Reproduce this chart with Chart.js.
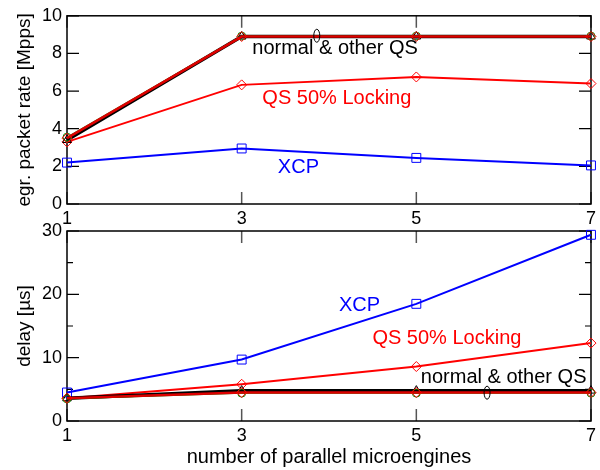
<!DOCTYPE html>
<html><head><meta charset="utf-8">
<script src="https://cdn.jsdelivr.net/npm/chart.js@4.4.1/dist/chart.umd.min.js"></script>
<style>
html,body{margin:0;padding:0;background:#fff;}
#wrap{position:relative;width:600px;height:470px;overflow:hidden;}
#c1{position:absolute;left:0;top:0;}
#c2{position:absolute;left:0;top:200px;}
</style></head><body><div id="wrap">
<canvas id="c1" width="600" height="232"></canvas>
<canvas id="c2" width="600" height="270"></canvas>
</div>
<script>
// ---- data ----
const xValues = [1, 3, 5, 7];
const xTicks = [1, 3, 5, 7];

// top panel: egress packet rate [Mpps]
const rateNormal   = [3.4, 8.9, 8.9, 8.9];
const rateOtherQS  = [3.55, 8.92, 8.92, 8.92];
const rateQS       = [3.5, 8.9, 8.9, 8.9];
const rateLocking  = [3.3, 6.33, 6.75, 6.4];
const rateXCP      = [2.2, 2.95, 2.45, 2.05];
const rateYTicks   = [0, 2, 4, 6, 8, 10];

// bottom panel: delay [µs]
const delayNormal  = [3.6, 4.8, 4.8, 4.8];
const delayOtherQS = [3.5, 4.4, 4.4, 4.4];
const delayQS      = [3.6, 4.5, 4.5, 4.5];
const delayLocking = [3.6, 5.8, 8.6, 12.3];
const delayXCP     = [4.5, 9.7, 18.5, 29.4];
const delayYTicks  = [0, 10, 20, 30];
const delayMinor   = [5, 15, 25];

// annotations (data coordinates)
const topNotes = [
  {text: 'normal & other QS', x: 4.07, y: 8.25, color: '#000'},
  {text: 'QS 50% Locking', x: 4.09, y: 5.6, color: '#ff0000'},
  {text: 'XCP', x: 3.65, y: 1.95, color: '#0000ff'}
];
const bottomNotes = [
  {text: 'XCP', x: 4.35, y: 18.2, color: '#0000ff'},
  {text: 'QS 50% Locking', x: 5.35, y: 13.1, color: '#ff0000'},
  {text: 'normal & other QS', x: 6.0, y: 6.8, color: '#000'}
];
const topEllipse = {x: 3.86, y: 8.94};
const bottomEllipse = {x: 5.81, y: 4.47};

const FONT = 'Liberation Sans, Arimo, Helvetica, Arial, sans-serif';
Chart.defaults.font.family = FONT;
Chart.defaults.color = '#000';

function pts(arr){ return arr.map((v,i)=>({x:xValues[i], y:v})); }

function mkDatasets(normal, other, qs, locking, xcp){
  const base = {fill:false, tension:0, clip:false, pointBackgroundColor:'rgba(0,0,0,0)', pointBorderWidth:1};
  // Chart.js draws the first dataset on top
  return [
    Object.assign({}, base, {data:pts(qs), borderColor:'#dd0000', borderWidth:2.6, pointStyle:'rectRot', pointRadius:5, pointBorderColor:'#ff0000'}),
    Object.assign({}, base, {data:pts(other), borderColor:'#008800', borderWidth:1.2, pointStyle:'circle', pointRadius:4, pointBorderColor:'#008800'}),
    Object.assign({}, base, {data:pts(normal), borderColor:'#000000', borderWidth:3.4, pointStyle:'triangle', pointRadius:5, pointBorderColor:'#000000'}),
    Object.assign({}, base, {data:pts(locking), borderColor:'#ff0000', borderWidth:2, pointStyle:'rectRot', pointRadius:5, pointBorderColor:'#ff0000'}),
    Object.assign({}, base, {data:pts(xcp), borderColor:'#0000ff', borderWidth:2, pointStyle:'rect', pointRadius:6.3, pointBorderColor:'#0000ff'})
  ];
}

function framePlugin(majors, minors, notes, ell){
  return {
    id:'frame',
    beforeDatasetsDraw(chart){
      const {ctx, chartArea:a, scales:{x, y}} = chart;
      ctx.save();
      ctx.strokeStyle = '#555'; ctx.lineWidth = 1.5;
      xTicks.forEach(v=>{
        const px = x.getPixelForValue(v);
        ctx.beginPath();
        ctx.moveTo(px, a.bottom); ctx.lineTo(px, a.bottom-12);
        ctx.moveTo(px, a.top); ctx.lineTo(px, a.top+12);
        ctx.stroke();
      });
      ctx.strokeStyle = '#000'; ctx.lineWidth = 1.2;
      majors.forEach(v=>{
        const py = y.getPixelForValue(v);
        ctx.beginPath();
        ctx.moveTo(a.left, py); ctx.lineTo(a.left+12, py);
        ctx.moveTo(a.right, py); ctx.lineTo(a.right-12, py);
        ctx.stroke();
      });
      minors.forEach(v=>{
        const py = y.getPixelForValue(v);
        ctx.beginPath();
        ctx.moveTo(a.left, py); ctx.lineTo(a.left+6, py);
        ctx.moveTo(a.right, py); ctx.lineTo(a.right-6, py);
        ctx.stroke();
      });
      ctx.lineWidth = 1.5;
      ctx.strokeRect(a.left, a.top, a.right-a.left, a.bottom-a.top);
      ctx.restore();
    },
    afterDatasetsDraw(chart){
      const {ctx, scales:{x, y}} = chart;
      ctx.save();
      ctx.font = '20px ' + FONT;
      ctx.textAlign = 'center'; ctx.textBaseline = 'middle';
      notes.forEach(n=>{
        ctx.fillStyle = n.color;
        ctx.fillText(n.text, x.getPixelForValue(n.x), y.getPixelForValue(n.y));
      });
      ctx.strokeStyle = '#000'; ctx.lineWidth = 1;
      ctx.beginPath();
      ctx.ellipse(x.getPixelForValue(ell.x), y.getPixelForValue(ell.y), 3, 6.5, 0, 0, Math.PI*2);
      ctx.stroke();
      ctx.restore();
    }
  };
}

function mkOptions(ymax, ystep, ytitle, xHeight, padTop, showXTitle){
  return {
    responsive:false, animation:false,
    layout:{padding:{top:padTop, right:5, left:0, bottom:0}},
    plugins:{legend:{display:false}, tooltip:{enabled:false}},
    scales:{
      x:{type:'linear', min:1, max:7,
         grid:{display:false, drawTicks:false}, border:{display:false},
         ticks:{stepSize:2, padding:4, font:{size:18}, color:'#000'},
         title:{display:showXTitle, text:'number of parallel microengines', font:{size:20}, padding:{top:0, bottom:1}, color:'#000'},
         afterFit(s){ s.height = xHeight; }
      },
      y:{type:'linear', min:0, max:ymax,
         grid:{display:false, drawTicks:false}, border:{display:false},
         ticks:{stepSize:ystep, padding:5, font:{size:18}, color:'#000'},
         title:{display:true, text:ytitle, font:{size:19}, padding:{top:13, bottom:0}, color:'#000'},
         afterFit(s){ s.width = 67; }
      }
    }
  };
}

new Chart(document.getElementById('c1'), {
  type:'line',
  data:{datasets: mkDatasets(rateNormal, rateOtherQS, rateQS, rateLocking, rateXCP)},
  options: mkOptions(10, 2, 'egr. packet rate [Mpps]', 28, 13, false),
  plugins:[framePlugin(rateYTicks, [], topNotes, topEllipse)]
});

new Chart(document.getElementById('c2'), {
  type:'line',
  data:{datasets: mkDatasets(delayNormal, delayOtherQS, delayQS, delayLocking, delayXCP)},
  options: mkOptions(30, 10, 'delay [µs]', 49, 31, true),
  plugins:[framePlugin(delayYTicks, delayMinor, bottomNotes, bottomEllipse)]
});
</script>
</body></html>
